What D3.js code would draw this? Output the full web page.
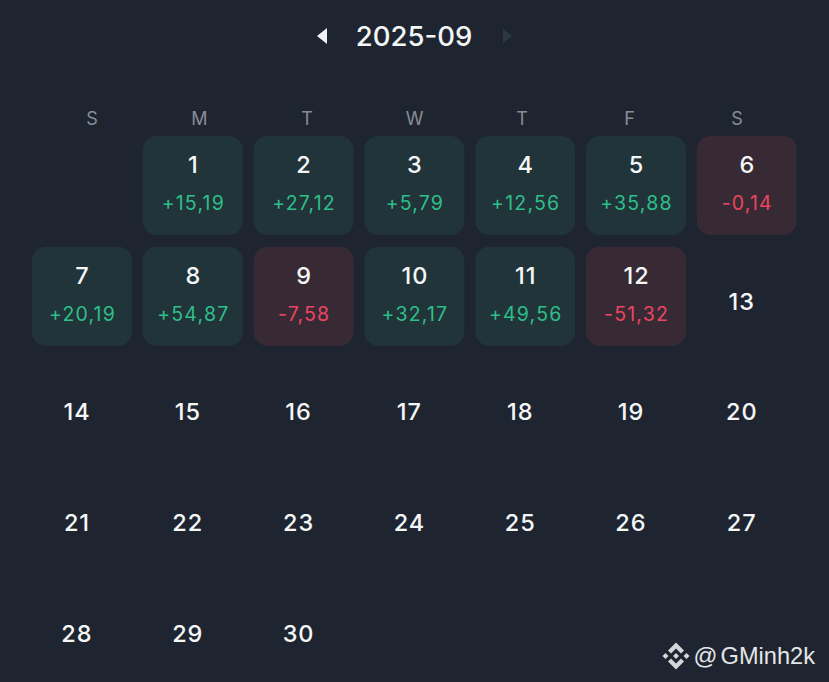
<!DOCTYPE html>
<html>
<head>
<meta charset="utf-8">
<script src="https://cdnjs.cloudflare.com/ajax/libs/d3/7.8.5/d3.min.js"></script>
<style>
html, body { margin: 0; padding: 0; background: #1f2530; overflow: hidden; }
svg { display: block; font-family: Inter, Lato, "Noto Sans", sans-serif; }
</style>
</head>
<body>
<div id="chart"></div>
<script>
var monthLabel = "2025-09";
var weekdays = ["S", "M", "T", "W", "T", "F", "S"];
var days = d3.range(1, 31);
var firstWeekday = 1;
var pnlDays = [1, 2, 3, 4, 5, 6, 7, 8, 9, 10, 11, 12];
var pnlValues = [15.19, 27.12, 5.79, 12.56, 35.88, -0.14, 20.19, 54.87, -7.58, 32.17, 49.56, -51.32];
var watermark = "@ GMinh2k";

var width = 829, height = 682;
var green = "#2fbf88", red = "#ec4560";

var svg = d3.select("#chart").append("svg")
    .attr("width", width)
    .attr("height", height);

svg.append("rect").attr("width", width).attr("height", height).attr("fill", "#1f2530");

// column + row positions of the day cells
var x = d3.scaleLinear().domain([0, 7]).range([32, 807.6]);
var y = d3.scaleLinear().domain([0, 5]).range([136, 689.8]);
var cellSize = 100;

// weekday header sits on its own, slightly narrower grid
var xHead = d3.scaleLinear().domain([0, 6]).range([92, 737]);

var fmt = d3.formatLocale({ decimal: ",", thousands: ".", grouping: [3], currency: ["", ""], minus: "-" }).format("+.2f");

var pnl = new Map(pnlDays.map(function(d, i) { return [d, pnlValues[i]]; }));

// header
svg.append("text")
    .attr("x", 414).attr("y", 36)
    .attr("dy", "0.36em")
    .attr("text-anchor", "middle")
    .attr("font-size", 27.5)
    .attr("font-weight", 500)
    .attr("fill", "#f5f6f7")
    .text(monthLabel);

svg.append("path").attr("d", d3.line()([[327, 28], [327, 44], [317, 36]])).attr("fill", "#f0f1f2");
svg.append("path").attr("d", d3.line()([[503, 29], [503, 43], [512, 36]])).attr("fill", "#2b3a40");

svg.selectAll(".weekday")
    .data(weekdays)
    .enter().append("text")
    .attr("class", "weekday")
    .attr("x", function(d, i) { return xHead(i); })
    .attr("y", 119)
    .attr("dy", "0.36em")
    .attr("text-anchor", "middle")
    .attr("font-size", 18)
    .attr("fill", "#878d97")
    .text(function(d) { return d; });

var cells = days.map(function(d) {
    var pos = d - 1 + firstWeekday;
    return { day: d, col: pos % 7, row: Math.floor(pos / 7), value: pnl.get(d) };
});

var withPnl = cells.filter(function(d) { return d.value !== undefined; });
var noPnl = cells.filter(function(d) { return d.value === undefined; });

var cell = svg.selectAll(".cell")
    .data(withPnl)
    .enter().append("g")
    .attr("class", "cell")
    .attr("transform", function(d) { return "translate(" + x(d.col) + "," + y(d.row) + ")"; });

cell.append("rect")
    .attr("width", cellSize)
    .attr("height", cellSize - 1)
    .attr("rx", 14)
    .attr("fill", function(d) { return d.value >= 0 ? "#20343a" : "#382a35"; });

cell.append("text")
    .attr("x", cellSize / 2 + 0.5)
    .attr("y", 28.5)
    .attr("dy", "0.36em")
    .attr("text-anchor", "middle")
    .attr("font-size", 23.5)
    .attr("font-weight", 500)
    .attr("letter-spacing", 1)
    .attr("fill", "#f5f6f7")
    .text(function(d) { return d.day; });

cell.append("text")
    .attr("x", cellSize / 2 + 0.5)
    .attr("y", 67)
    .attr("dy", "0.36em")
    .attr("text-anchor", "middle")
    .attr("font-size", 19.5)
    .attr("font-weight", 400)
    .attr("letter-spacing", 1.2)
    .attr("fill", function(d) { return d.value >= 0 ? green : red; })
    .text(function(d) { return fmt(d.value); });

// days without a result: number only, centred a little off the cell grid
svg.selectAll(".day")
    .data(noPnl)
    .enter().append("text")
    .attr("class", "day")
    .attr("x", function(d) { return x(d.col) + 45; })
    .attr("y", function(d) { return y(d.row) + 54.5; })
    .attr("dy", "0.36em")
    .attr("text-anchor", "middle")
    .attr("font-size", 23.5)
    .attr("font-weight", 500)
    .attr("letter-spacing", 1)
    .attr("fill", "#f5f6f7")
    .text(function(d) { return d.day; });

// watermark
var logo = svg.append("g").attr("transform", "translate(676,656)").attr("fill", "#d4d6d9");
logo.append("path").attr("d", "M0,-13.5L8,-5.5L5,-2.5L0,-7.5L-5,-2.5L-8,-5.5Z");
logo.append("path").attr("d", "M0,13.5L8,5.5L5,2.5L0,7.5L-5,2.5L-8,5.5Z");
logo.append("path").attr("d", "M0,-3L3,0L0,3L-3,0Z");
logo.append("path").attr("d", "M-10.5,-3L-7.5,0L-10.5,3L-13.5,0Z");
logo.append("path").attr("d", "M10.5,-3L13.5,0L10.5,3L7.5,0Z");

svg.append("text")
    .attr("x", 815).attr("y", 656)
    .attr("dy", "0.36em")
    .attr("text-anchor", "end")
    .attr("font-family", "Liberation Sans, Arial, sans-serif")
    .attr("font-size", 23.6)
    .attr("word-spacing", -3.5)
    .attr("fill", "#e4e5e7")
    .text(watermark);
</script>
</body>
</html>
